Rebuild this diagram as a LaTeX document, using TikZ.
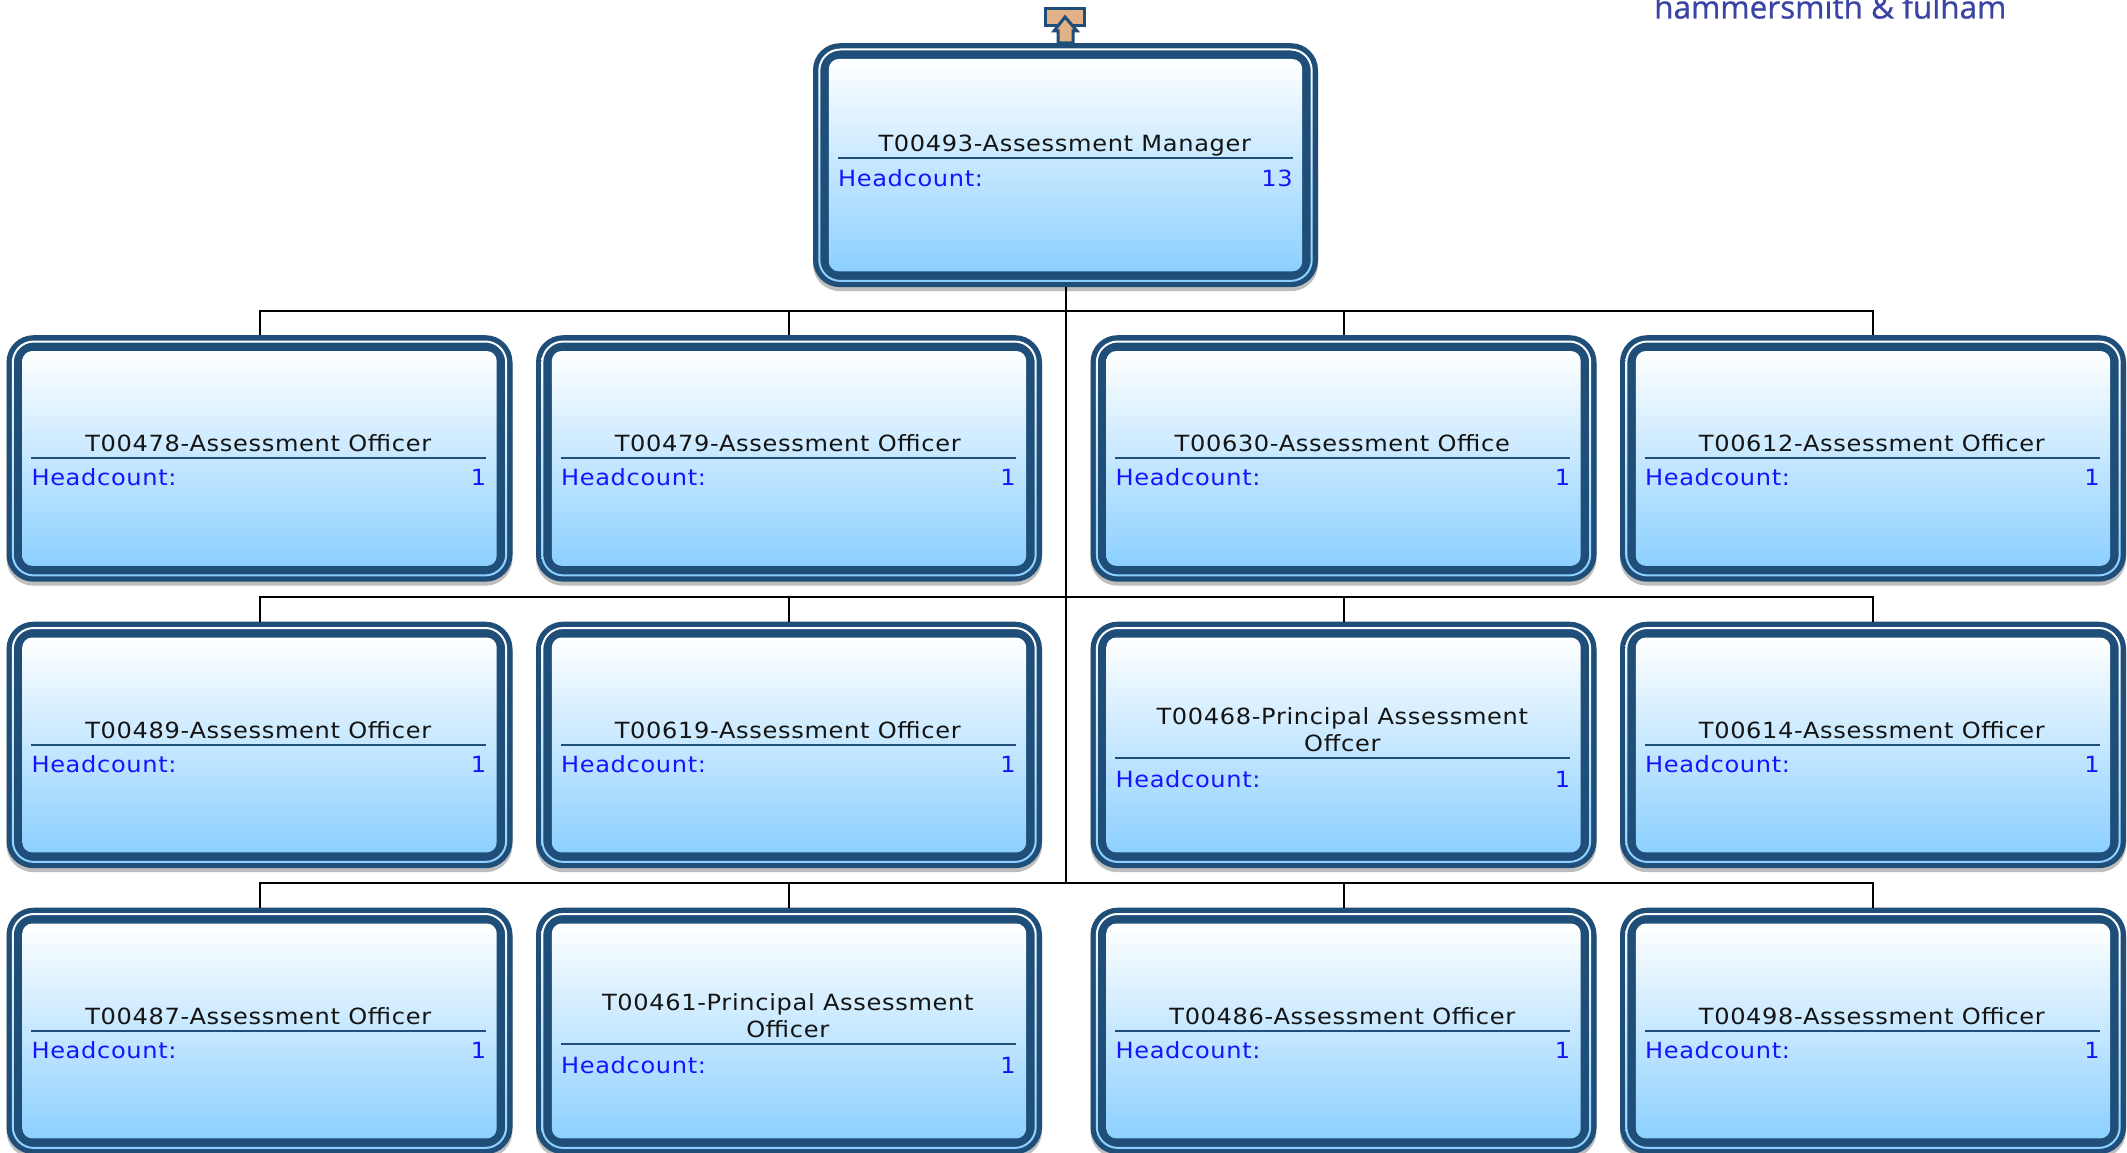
\documentclass[tikz,border=0pt]{standalone}
\usepackage{fontspec}
\setmainfont{DejaVu Sans}
\newfontfamily\logofont[FakeBold=0.7]{Open Sans}
\newfontfamily\boxfont[FakeStretch=1.08,LetterSpace=3]{DejaVu Sans}
\usetikzlibrary{shadows,calc}
\definecolor{darkband}{HTML}{1F4E79}
\definecolor{skyend}{HTML}{8CD0FF}
\definecolor{shadowgrey}{HTML}{BEBEBE}
\definecolor{headblue}{HTML}{1414FF}
\definecolor{tan}{HTML}{E3B186}
\definecolor{logoblue}{HTML}{3A44A4}
\tikzset{
  x=1pt,y=-1pt,
  outerbox/.style={shape=rectangle,anchor=north,fill=darkband,rounded corners=27pt,inner sep=0pt,
    minimum width=506pt,minimum height=246.5pt,
    general shadow={shadow yshift=-4pt,fill=shadowgrey}},
  linkline/.style={draw=black,line width=2pt},
  titletext/.style={inner sep=0pt,anchor=base,align=center,text=black!92,font=\boxfont\fontsize{22.3}{27}\selectfont},
  headtext/.style={inner sep=0pt,text=headblue,font=\boxfont\fontsize{22.3}{27}\selectfont},
  dividerline/.style={draw=darkband,line width=2pt},
}
% [box options], name, cx, top, title, title baseline offset, divider offset, headcount baseline offset, number
\newcommand{\orgbox}[9][]{%
  \node[outerbox,#1] (#2) at (#3,#4) {};
  \shade[even odd rule,top color=white,bottom color=skyend]
    [rounded corners=22pt] ([shift={(5.5,5.5)}]#2.north west) rectangle ([shift={(-5.5,-5.5)}]#2.south east)
    [rounded corners=20pt] ([shift={(7.5,7.5)}]#2.north west) rectangle ([shift={(-7.5,-7.5)}]#2.south east);
  \shade[top color=white,bottom color=skyend,rounded corners=10pt]
    ([shift={(16,16)}]#2.north west) rectangle ([shift={(-16,-16)}]#2.south east);
  \node[titletext] (#2title) at ([shift={(252,#6)}]#2.north west) {#5};
  \draw[dividerline] ([shift={(25,#7)}]#2.north west) -- ([shift={(480,#7)}]#2.north west);
  \node[headtext,anchor=base west] (#2label) at ([shift={(25,#8)}]#2.north west) {Headcount:};
  \node[headtext,anchor=base east] (#2num) at ([shift={(480,#8)}]#2.north west) {#9};
}
\begin{document}
\begin{tikzpicture}
\useasboundingbox (0,0) rectangle (2127,1153);
\fill[white] (0,0) rectangle (2127,1153);
\begin{scope}
\clip (0,0) rectangle (2127,1153);
\node[inner sep=0pt,anchor=base west,text=logoblue,font=\logofont\fontsize{31.5}{31.5}\selectfont] (logo) at (1654,18.5) {hammersmith \& fulham};

\orgbox[minimum width=505pt,minimum height=244pt]{mgr}{1065.5}{43}{T00493-Assessment Manager}{108.5}{115}{143.5}{13}
\orgbox{a}{259.5}{335}{T00478-Assessment Officer}{116.5}{123}{150}{1}
\orgbox{b}{789}{335}{T00479-Assessment Officer}{116.5}{123}{150}{1}
\orgbox{c}{1343.5}{335}{T00630-Assessment Office}{116.5}{123}{150}{1}
\orgbox{d}{1873}{335}{T00612-Assessment Officer}{116.5}{123}{150}{1}
\orgbox{e}{259.5}{621.5}{T00489-Assessment Officer}{116.5}{123.5}{150.5}{1}
\orgbox{f}{789}{621.5}{T00619-Assessment Officer}{116.5}{123.5}{150.5}{1}
\orgbox{g}{1343.5}{621.5}{T00468-Principal Assessment\\Offcer}{129.5}{136.5}{166}{1}
\orgbox{h}{1873}{621.5}{T00614-Assessment Officer}{116.5}{123.5}{150.5}{1}
\orgbox{i}{259.5}{907.5}{T00487-Assessment Officer}{116.5}{123.5}{150.5}{1}
\orgbox{j}{789}{907.5}{T00461-Principal Assessment\\Officer}{129.5}{136.5}{166}{1}
\orgbox{k}{1343.5}{907.5}{T00486-Assessment Officer}{116.5}{123.5}{150.5}{1}
\orgbox{l}{1873}{907.5}{T00498-Assessment Officer}{116.5}{123.5}{150.5}{1}

\coordinate (j1) at (1066,311);
\coordinate (j2) at (1066,597);
\coordinate (j3) at (1066,883);
\draw[linkline] (j1 |- mgr.south) -- (j3);
\draw[linkline] (a.north) |- (j1) -| (b.north);
\draw[linkline] (c.north) |- (j1) -| (d.north);
\draw[linkline] (b.north) |- (j1);
\draw[linkline] (e.north) |- (j2) -| (f.north);
\draw[linkline] (g.north) |- (j2) -| (h.north);
\draw[linkline] (f.north) |- (j2);
\draw[linkline] (i.north) |- (j3) -| (j.north);
\draw[linkline] (k.north) |- (j3) -| (l.north);
\draw[linkline] (j.north) |- (j3);

\draw[draw=darkband,fill=tan,line width=3pt] (1045.5,8.5) rectangle (1084.5,25.5);
\draw[draw=darkband,fill=tan,line width=3pt,line join=miter]
  (1065,17) -- (1077,31) -- (1073,31) -- (1073,43) -- (1058,43) -- (1058,31) -- (1054,31) -- cycle;
\end{scope}
\end{tikzpicture}
\end{document}
